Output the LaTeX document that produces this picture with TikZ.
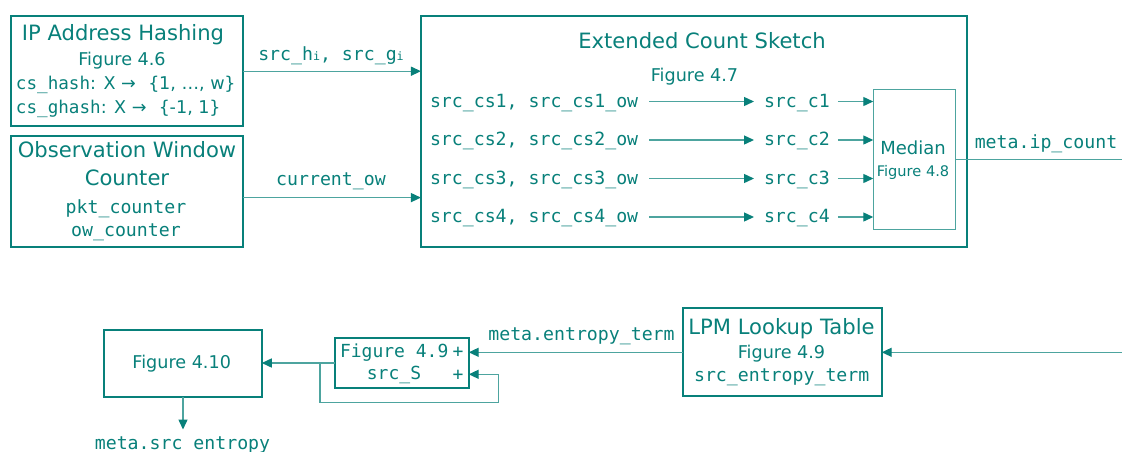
\documentclass[tikz,border=0pt]{standalone}
\usepackage{fontspec}
\setmainfont{DejaVu Sans}
\setsansfont{DejaVu Sans}
\setmonofont{DejaVu Sans Mono}
\usetikzlibrary{arrows.meta}
\definecolor{dteal}{RGB}{8,128,122}
\colorlet{lteal}{dteal!72}
\newcommand\fsz[1]{\fontsize{#1}{#1}\selectfont}

\begin{document}
\begin{tikzpicture}[x=1pt,y=-1pt,
  every node/.style={text=dteal, inner sep=0pt, outer sep=0pt},
  block/.style={draw=dteal, line width=2pt},
  thinblock/.style={draw=lteal, line width=1.1pt},
  conn/.style={draw=lteal, line width=1.4pt},
  arr/.style={conn, -{Triangle[length=10pt,width=9pt,color=dteal]}},
  title/.style={font=\fsz{21.1}},
  fig/.style={font=\fsz{17.6}},
  code/.style={font=\ttfamily\fsz{18.2}},
]
\useasboundingbox (0,0) rectangle (1122,451);

% ---------- upper row: boxes ----------
\node[block, minimum width=231.7, minimum height=110] (ip) at (127.2,71.2) {};
\node[block, minimum width=231.7, minimum height=110.8] (ow) at (127.2,191.6) {};
\node[block, minimum width=545.7, minimum height=231] (ecs) at (693.8,131.7) {};
\node[thinblock, minimum width=82.3, minimum height=140.3] (med) at (914.4,159.7) {};

% IP address hashing
\node[title, anchor=base] (iptitle) at (123,40) {IP Address Hashing};
\node[fig, anchor=base] (ipfig) at (122,65) {Figure 4.6};
\node[anchor=base west, font=\fsz{17.6}] (iphash) at (16,89)
  {\ttfamily cs\_hash\sffamily: X →\hspace{7pt} \ttfamily\{\sffamily 1, …, w\ttfamily\}};
\node[anchor=base west, font=\fsz{17.6}] (ipghash) at (16,113)
  {\ttfamily cs\_ghash\sffamily: X →\hspace{7pt} \ttfamily\{\sffamily -1, 1\ttfamily\}};

% observation window counter
\node[title, anchor=base] (owt1) at (127,157) {Observation Window};
\node[title, anchor=base] (owt2) at (127,185) {Counter};
\node[code, anchor=base] (owpkt) at (126,213) {pkt\_counter};
\node[code, anchor=base] (owcnt) at (126,236.5) {ow\_counter};

% extended count sketch
\node[title, anchor=base] (ecstitle) at (702,48) {Extended Count Sketch};
\node[fig, anchor=base] (ecsfig) at (694.5,81) {Figure 4.7};

\foreach \i/\y in {1/107,2/145.5,3/184,4/222.5}{
  \node[code, anchor=base west] (cs\i) at (430,\y) {src\_cs\i, src\_cs\i\_ow};
  \node[code, anchor=base west] (c\i) at (764,\y) {src\_c\i};
  \draw[arr] ([shift={(11,-5.5)}]cs\i.base east) -- ([shift={(-10,-5.5)}]c\i.base west);
  \coordinate (m\i) at ([shift={(8,-5.5)}]c\i.base east);
  \draw[arr] (m\i) -- (m\i -| med.west);
}

% median
\node[font=\fsz{18}, anchor=base] (medt) at (913,154) {Median};
\node[font=\fsz{14.6}, anchor=base] (medfig) at (913,176.7) {Figure 4.8};

% connectors of the upper row
\draw[arr] (ip.east) -- (ip.east -| ecs.west);
\node[code, anchor=base] (hglabel) at (331,60)
  {src\_h{\fsz{11.6}i}, src\_g{\fsz{11.6}i}};
\coordinate (owout) at ([shift={(0,6)}]ow.east);
\draw[arr] (owout) -- (owout -| ecs.west);
\node[code, anchor=base] (owlabel) at (331,185) {current\_ow};

\coordinate (ipend) at (1122,159.7);
\draw[conn] (med.east) -- (ipend);
\node[code, anchor=base] (iplabel) at (1046,148) {meta.ip\_count};

% ---------- lower row ----------
\node[block, minimum width=157.5, minimum height=67.2] (f410) at (183,363.4) {};
\node[fig, anchor=base] (f410t) at (181.7,368) {Figure 4.10};

\node[block, minimum width=134, minimum height=50.5] (f49) at (401.7,363) {};
\node[code, font=\ttfamily\fsz{18}, anchor=base west] (f49t) at (340,357) {Figure 4.9};
\node[code, font=\ttfamily\fsz{18}, anchor=base] (plus1) at (458,357) {+};
\node[code, font=\ttfamily\fsz{18}, anchor=base] (f49s) at (394,379.5) {src\_S};
\node[code, font=\ttfamily\fsz{18}, anchor=base] (plus2) at (458,380) {+};

\node[block, minimum width=198.4, minimum height=88.3] (lpm) at (782.5,351.9) {};
\node[title, anchor=base] (lpmt) at (781.5,334) {LPM Lookup Table};
\node[fig, anchor=base] (lpmfig) at (781.5,358.3) {Figure 4.9};
\node[code, anchor=base] (lpmterm) at (781.7,381) {src\_entropy\_term};

% connectors of the lower row
\coordinate (srcin) at (1122,352.3);
\draw[arr] (srcin) -- (srcin -| lpm.east);
\coordinate (lpmout) at ([shift={(0,0.4)}]lpm.west);
\draw[arr] (lpmout) -- (lpmout -| f49.east);
\node[code, anchor=base] (etlabel) at (581.5,340) {meta.entropy\_term};

\draw[arr] (f49.west) -- (f49.west -| f410.east);
\coordinate (tap) at ([shift={(-14.7,0)}]f49.west);
\coordinate (fbin) at ([shift={(0,11.3)}]f49.east);
\draw[arr] (tap) -- ++(0,39.7) -| ([shift={(29.6,0)}]fbin) -- (fbin);

\draw[arr] (f410.south) -- ++(0,32.5);
\node[code, anchor=base] (entlabel) at (182.5,449) {meta.src\_entropy};
\end{tikzpicture}
\end{document}
